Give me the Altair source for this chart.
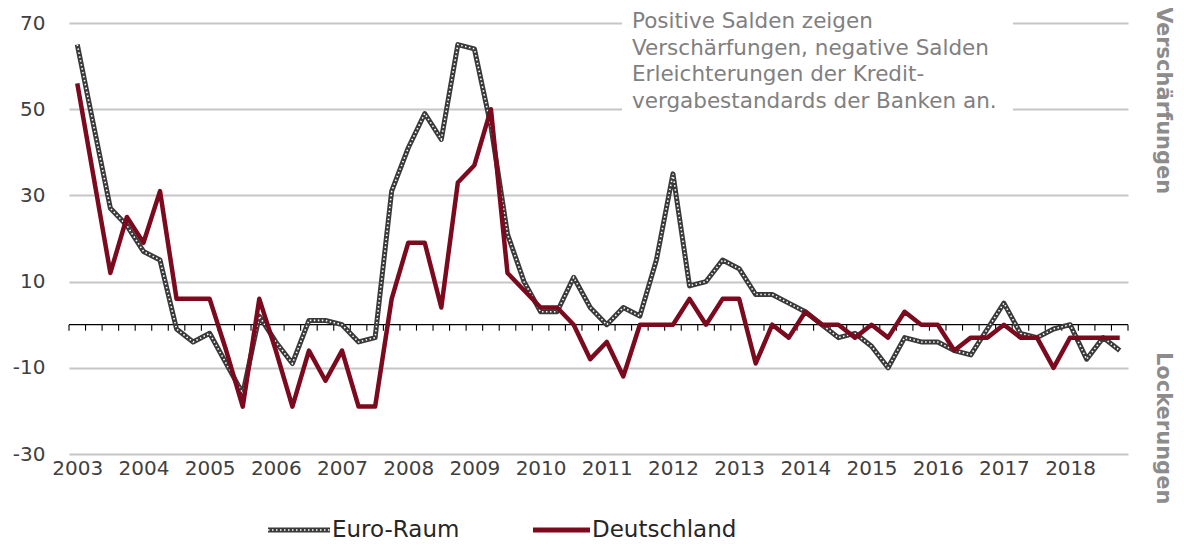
import json
import altair as alt
import pandas as pd

# ---- data (quarterly, 2003Q1 .. 2018Q4) ----
years = [str(y) for y in range(2003, 2019)]
euro_raum = [65, 46, 27, 23, 17, 15, -1, -4, -2, -9,
             -16, 2, -4, -9, 1, 1, 0, -4, -3, 31,
             41, 49, 43, 65, 64, 46, 21, 10, 3, 3,
             11, 4, 0, 4, 2, 15, 35, 9, 10, 15,
             13, 7, 7, 5, 3, 0, -3, -2, -5, -10,
             -3, -4, -4, -6, -7, -1, 5, -2, -3, -1,
             0, -8, -3, -6]
deutschland = [56, 34, 12, 25, 19, 31, 6, 6, 6, -6,
               -19, 6, -6, -19, -6, -13, -6, -19, -19, 6,
               19, 19, 4, 33, 37, 50, 12, 8, 4, 4,
               0, -8, -4, -12, 0, 0, 0, 6, 0, 6,
               6, -9, 0, -3, 3, 0, 0, -3, 0, -3,
               3, 0, 0, -6, -3, -3, 0, -3, -3, -10,
               -3, -3, -3, -3]
y_ticks = [-30, -10, 10, 30, 50, 70]
series_names = ["Euro-Raum", "Deutschland"]
note_lines = ["Positive Salden zeigen",
              "Verschärfungen, negative Salden",
              "Erleichterungen der Kredit-",
              "vergabestandards der Banken an."]
side_titles = ["Verschärfungen", "Lockerungen"]
side_title_values = [52, -24]

n = len(euro_raum)
idx = list(range(n))
df_eu = pd.DataFrame({"i": idx, "v": euro_raum})
df_de = pd.DataFrame({"i": idx, "v": deutschland})
df_bounds = pd.DataFrame({"b": [k - 0.5 for k in range(n + 1)]})
df_side = pd.DataFrame({"t": side_titles, "v": side_title_values})

FONT = "DejaVu Sans"
RED = "#7c0a1f"
DARK = "#3a3a3a"

x_scale = alt.Scale(domain=[-0.5, n - 0.5], nice=False, zero=False)
y_scale = alt.Scale(domain=[-30, 70], nice=False, zero=False)

label_expr = json.dumps(years) + "[datum.value / 4]"

x_axis = alt.Axis(values=list(range(0, n, 4)), labelExpr=label_expr, title=None,
                  grid=False, domain=False, ticks=False, labelFont=FONT,
                  labelFontSize=20, labelColor="#404040", labelPadding=4,
                  labelFlush=False)
y_axis = alt.Axis(values=y_ticks, title=None, grid=True, gridColor="#c6c6c6",
                  gridWidth=2, domain=False, ticks=False, labelFont=FONT,
                  labelFontSize=20, labelColor="#404040", labelPadding=24,
                  labelExpr="'' + datum.value")

base_x = alt.X("i:Q", scale=x_scale, axis=x_axis)
base_y = alt.Y("v:Q", scale=y_scale, axis=y_axis)

# white box behind the note text
note_bg = alt.Chart(pd.DataFrame({"a": [0]})).mark_rect(color="white").encode(
    x=alt.value(553), x2=alt.value(944), y=alt.value(-20), y2=alt.value(93))

zero_line = alt.Chart(pd.DataFrame({"a": [0]})).mark_rule(
    color="black", strokeWidth=1.3).encode(
    x=alt.datum(-0.5, scale=x_scale), x2=alt.datum(n - 0.5),
    y=alt.datum(0, scale=y_scale))

ticks = alt.Chart(df_bounds).mark_rule(color="black", strokeWidth=1.1,
                                       y2Offset=6).encode(
    x=alt.X("b:Q", scale=x_scale, axis=x_axis),
    y=alt.datum(0, scale=y_scale), y2=alt.datum(0))

eu_dark = alt.Chart(df_eu).mark_line(color=DARK, strokeWidth=5,
                                     strokeJoin="round").encode(x=base_x, y=base_y)
eu_dots = alt.Chart(df_eu).mark_line(color="white", strokeWidth=1.6,
                                     strokeDash=[1.5, 2.5]).encode(x=base_x, y=base_y)
de_line = alt.Chart(df_de).mark_line(color=RED, strokeWidth=4.5,
                                     strokeJoin="round").encode(x=base_x, y=base_y)

note = alt.Chart(pd.DataFrame({"a": [0]})).mark_text(
    text=note_lines, align="left", baseline="alphabetic", font=FONT,
    fontSize=21.5, color="#808080", lineHeight=26.7).encode(
    x=alt.value(563), y=alt.value(5))

side = alt.Chart(df_side).mark_text(angle=90, font=FONT, fontSize=21,
                                    fontWeight="bold", color="#8c8c8c",
                                    align="center", baseline="middle").encode(
    x=alt.value(1094), y=alt.Y("v:Q", scale=y_scale, axis=y_axis), text="t:N")

# legend
leg_y = 507
leg_eu_dark = alt.Chart(pd.DataFrame({"a": [0]})).mark_rule(
    color=DARK, strokeWidth=5).encode(x=alt.value(199), x2=alt.value(261), y=alt.value(leg_y))
leg_eu_dots = alt.Chart(pd.DataFrame({"a": [0]})).mark_rule(
    color="white", strokeWidth=1.6, strokeDash=[1.5, 2.5]).encode(
    x=alt.value(199), x2=alt.value(261), y=alt.value(leg_y))
leg_de = alt.Chart(pd.DataFrame({"a": [0]})).mark_rule(
    color=RED, strokeWidth=5).encode(x=alt.value(464), x2=alt.value(521), y=alt.value(leg_y))
leg_text = alt.Chart(pd.DataFrame({"t": series_names, "px": [263, 523]})).mark_text(
    align="left", baseline="middle", font=FONT, fontSize=23, color="#262626").encode(
    x=alt.X("px:Q", scale=None), y=alt.value(leg_y), text="t:N")

chart = alt.layer(
    note_bg, zero_line, ticks, eu_dark, eu_dots, de_line, note, side,
    leg_eu_dark, leg_eu_dots, leg_de, leg_text
).properties(
    width=1059, height=431,
    autosize=alt.AutoSizeParams(type="none"),
    padding={"left": 61, "top": 15, "right": 48, "bottom": 88},
).configure_view(stroke=None)

chart.save("out.html", embed_options={"renderer": "svg", "actions": False})
